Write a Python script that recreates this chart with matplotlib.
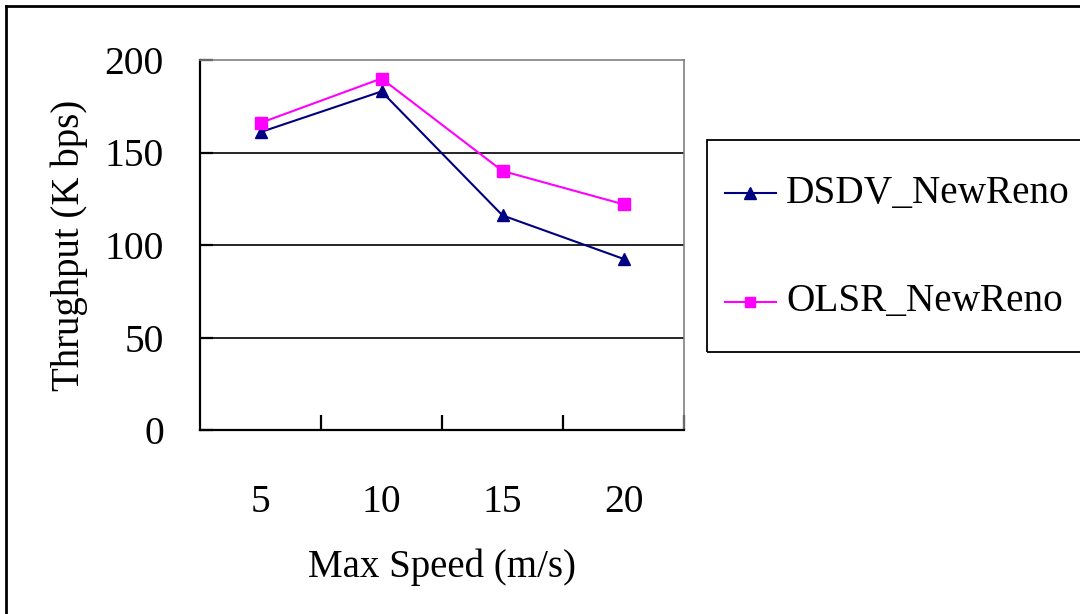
import matplotlib
matplotlib.use("Agg")
import matplotlib.pyplot as plt
from matplotlib.lines import Line2D
from matplotlib.patches import Rectangle

plt.rcParams['font.family'] = ['Liberation Serif', 'DejaVu Serif']

# throughput vs. max node speed
speeds = ["5", "10", "15", "20"]
dsdv_newreno = [161, 183, 116, 92.5]
olsr_newreno = [166, 190, 140, 122]
series_names = ["DSDV_NewReno", "OLSR_NewReno"]
y_ticks = [0, 50, 100, 150, 200]

W, H = 1080, 614
fig = plt.figure(figsize=(W / 100, H / 100), dpi=100)
ax = fig.add_axes([200 / W, (H - 430) / H, 484 / W, 370 / H])

pos = list(range(1, len(speeds) + 1))
ax.plot(pos, dsdv_newreno, color="#000080", lw=1.5, marker="^", ms=9,
        mec="#000080", mfc="#000080", zorder=4, clip_on=False)
ax.plot(pos, olsr_newreno, color="#FF00FF", lw=1.5, marker="s", ms=8.5,
        mec="#FF00FF", mfc="#FF00FF", zorder=4, clip_on=False)

ax.set_xlim(0.5, len(speeds) + 0.5)
ax.set_ylim(0, 200)

# horizontal gridlines (top one is the plot border)
for v in y_ticks[1:-1]:
    ax.axhline(v, color="black", lw=1.2, zorder=1)

# category ticks sit between the groups, labels centred on each group
ax.set_xticks([p + 0.5 for p in pos])
ax.set_xticklabels([])
ax.set_xticks(pos, minor=True)
ax.set_xticklabels(speeds, minor=True)
ax.tick_params(axis="x", which="major", direction="in", length=11, width=1.6)
ax.tick_params(axis="x", which="minor", length=0, pad=39, labelsize=28.5)

ax.set_yticks(y_ticks)
ax.tick_params(axis="y", direction="in", length=9, width=1.6, pad=26, labelsize=28.5)

for s in ["left", "bottom"]:
    ax.spines[s].set_color("black")
    ax.spines[s].set_linewidth(1.6)
for s in ["top", "right"]:
    ax.spines[s].set_color("#808080")
    ax.spines[s].set_linewidth(1.2)

ax.set_xlabel("Max Speed (m/s)", fontsize=28, labelpad=20)
ax.set_ylabel("Thrughput (K bps)", fontsize=28, labelpad=12)

# legend box, drawn by hand so it can run off the right edge
fig.add_artist(Rectangle((707 / W, (H - 352) / H), 400 / W, 212 / H,
                         transform=fig.transFigure, fill=False,
                         ec="black", lw=1.3))
legend_rows = [
    (193, "#000080", "^", 8, series_names[0]),
    (302, "#FF00FF", "s", 7.5, series_names[1]),
]
for y_px, col, mk, ms, name in legend_rows:
    yy = (H - y_px) / H
    fig.add_artist(Line2D([725 / W, 750 / W, 776 / W], [yy, yy, yy],
                          transform=fig.transFigure, color=col, lw=1.5,
                          marker=mk, ms=ms, mfc=col, mec=col, markevery=[1]))
    fig.text(786 / W, yy, name, fontsize=28.3, va="center", ha="left")

# outer chart frame (top and left edges)
fig.add_artist(Line2D([6 / W, 1], [(H - 6) / H, (H - 6) / H],
                      transform=fig.transFigure, color="black", lw=2))
fig.add_artist(Line2D([6 / W, 6 / W], [0, (H - 6) / H],
                      transform=fig.transFigure, color="black", lw=2))

fig.savefig("out.png", dpi=100)
